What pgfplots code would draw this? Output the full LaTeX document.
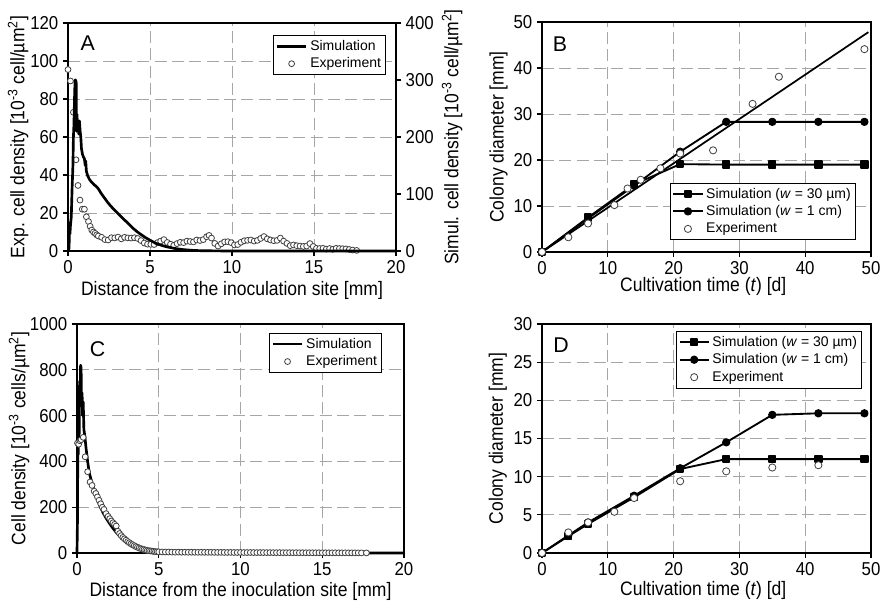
\documentclass[border=0pt]{standalone}
\usepackage{fontspec}
\setmainfont{Liberation Sans}[FakeStretch=0.9]
\newfontfamily\legendfont{Liberation Sans}
\usepackage{pgfplots}
\pgfplotsset{compat=1.18}

\pgfplotsset{
  panel/.style={
    scale only axis,
    clip=false,
    axis line style={line width=1.6pt},
    tick align=outside,
    major tick length=3.75pt,
    tick style={black, line width=0.8pt},
    xtick pos=left, ytick pos=left,
    grid=major,
    major grid style={black!35, dash pattern=on 9pt off 4pt, line width=0.6pt},
    tick label style={font=\fontsize{14}{16}\selectfont},
    label style={font=\fontsize{14.6}{17}\selectfont},
    legend style={font=\legendfont\fontsize{10.5}{12.8}\selectfont, draw=black, line width=0.6pt, inner sep=1.5pt},
    legend cell align=left,
    legend image code/.code={\draw[mark repeat=2,mark phase=2,##1] plot coordinates {(0pt,0pt) (11pt,0pt) (22pt,0pt)};},
    scaled ticks=false,
    /pgf/number format/1000 sep={},
    /pgf/number format/assume math mode=true,
  },
  expdot/.style={only marks, mark=*, mark size=#1, mark options={draw=black!75, fill=white, line width=0.6pt}},
  simline/.style={black, line width=#1, line join=round, mark=none},
}
\newcommand{\letter}{\legendfont\fontsize{16}{19}\selectfont}

\begin{document}
\begin{tikzpicture}
\useasboundingbox (0,0) rectangle (661.5pt,450pt);

% ---- A ----
\begin{axis}[panel,
  at={(51pt,261.75pt)}, anchor=south west, width=246pt, height=171pt,
  xmin=0, xmax=20, ymin=0, ymax=120,
  xtick={0,5,...,20}, ytick={0,20,...,120},
  xlabel={Distance from the inoculation site [mm]},
  ylabel={Exp. cell density [10\textsuperscript{-3} cell/µm\textsuperscript{2}]},
  xlabel style={at={(axis description cs:0.5,-0.171)}, anchor=center},
  ylabel style={at={(axis description cs:-0.152,0.5)}, anchor=center},
  legend style={at={(0.970,0.947)}, anchor=north east},
]
\addlegendimage{simline=2pt}
\addlegendentry{Simulation}
\addplot[expdot=2.2pt] coordinates {
(0.00,95.5) (0.15,89.5) (0.33,73) (0.49,48) (0.61,34.5) (0.73,26.8) (0.87,22) (1.0,22)
(1.12,18) (1.25,15.5) (1.35,13) (1.45,11) (1.55,10) (1.65,9.3) (1.75,8.5)
(1.85,7.9) (2.05,7.2) (2.25,6.0) (2.45,5.8) (2.65,7.0) (2.85,6.9) (3.05,7.3) (3.25,6.4)
(3.45,7.2) (3.65,6.9) (3.85,6.8) (4.05,7.0) (4.25,6.6) (4.45,5.5) (4.65,4.2) (4.85,3.6)
(5.05,3.5) (5.25,3.4) (5.45,4.4) (5.65,5.2) (5.85,6.0) (6.05,4.5) (6.25,3.6) (6.45,3.0)
(6.65,3.9) (6.85,4.6) (7.05,4.4) (7.25,5.2) (7.45,5.0) (7.65,4.8) (7.85,5.8) (8.05,5.5)
(8.25,6.0) (8.45,7.5) (8.6,8.2) (8.75,6.8) (8.95,4.0) (9.15,2.6) (9.35,3.8) (9.55,4.8)
(9.75,4.9) (9.95,4.4) (10.15,3.2) (10.35,3.4) (10.55,4.6) (10.75,5.4) (10.95,5.6) (11.15,5.8)
(11.35,5.2) (11.55,5.6) (11.75,6.6) (11.95,7.6) (12.15,6.4) (12.35,5.8) (12.55,5.4) (12.75,5.6)
(12.95,6.8) (13.15,5.2) (13.35,4.0) (13.55,2.8) (13.75,3.2) (13.95,2.8) (14.15,2.6) (14.35,2.4)
(14.55,2.6) (14.75,3.9) (14.95,2.4) (15.15,1.4) (15.35,1.3) (15.55,1.4) (15.75,1.0) (15.95,1.3)
(16.15,0.9) (16.35,1.4) (16.55,1.3) (16.75,1.2) (16.95,1.1) (17.15,0.8) (17.35,0.5) (17.6,0.3)
};
\addlegendentry{Experiment}
\node[font=\letter] at (axis description cs:0.06,0.911) {A};
\end{axis}
\begin{axis}[panel,
  at={(51pt,261.75pt)}, anchor=south west, width=246pt, height=171pt,
  xmin=0, xmax=20, ymin=0, ymax=400,
  grid=none,
  axis x line=none, axis y line*=right, ytick pos=right,
  ytick={0,100,...,400},
  ylabel={Simul. cell density [10\textsuperscript{-3} cell/µm\textsuperscript{2}]},
  ylabel style={at={(axis description cs:1.171,0.5)}, anchor=center},
]
\addplot[simline=2pt] coordinates {
(0,0) (0.05,0) (0.08,20) (0.1,50) (0.12,30) (0.15,45) (0.2,60) (0.25,110) (0.3,150)
(0.33,200) (0.36,220) (0.4,270) (0.43,300) (0.47,300) (0.5,295) (0.52,210) (0.55,240)
(0.58,215) (0.62,225) (0.66,205) (0.70,228) (0.74,210) (0.78,200) (0.82,180) (0.88,170)
(0.94,165) (1.0,162) (1.05,150) (1.08,158) (1.12,140) (1.2,132) (1.3,126) (1.4,122)
(1.5,119) (1.6,116) (1.7,114) (1.8,111) (1.9,107) (2.0,102) (2.2,94) (2.4,86) (2.6,79)
(2.8,73) (3.0,67) (3.25,60) (3.5,53) (3.75,46) (4.0,39) (4.25,33) (4.5,28) (4.75,23)
(5.0,19) (5.25,15) (5.5,12) (5.75,9.5) (6.0,7.5) (6.5,4.5) (7.0,2.5) (7.5,1.3) (8.0,0.6)
(9.0,0.2) (10,0) (20,0)
};
\end{axis}

% ---- B ----
\begin{axis}[panel,
  at={(406.5pt,261pt)}, anchor=south west, width=246.75pt, height=172.5pt,
  xmin=0, xmax=50, ymin=0, ymax=50,
  xtick={0,10,...,50}, ytick={0,10,...,50},
  xlabel={Cultivation time (\textit{t}) [d]},
  ylabel={Colony diameter [mm]},
  xlabel style={at={(axis description cs:0.49,-0.152)}, anchor=center},
  ylabel style={at={(axis description cs:-0.132,0.5)}, anchor=center},
  legend style={at={(0.954,0.052)}, anchor=south east},
]
\addplot[simline=1.3pt, forget plot] coordinates {(0,0) (49.6,47.8)};
\addplot[simline=1.4pt, mark=square*, mark size=2.4pt] coordinates {
(0,0) (7,7.5) (14,14.7) (21,19.1) (28,19) (35,19) (42,19) (49,19)};
\addlegendentry{Simulation (\textit{w} = 30 µm)}
\addplot[simline=1.4pt, mark=*, mark size=2.4pt] coordinates {
(0,0) (7,7.3) (14,14.4) (21,21.8) (28,28.3) (35,28.3) (42,28.3) (49,28.3)};
\addlegendentry{Simulation (\textit{w} = 1 cm)}
\addplot[expdot=2.7pt] coordinates {
(0,0) (4,3.2) (7,6.2) (11,10.2) (13,13.8) (15,15.7) (18,18.2) (21,21.4) (26,22.1)
(32,32.2) (36,38.1) (49,44.1)};
\addlegendentry{Experiment}
\node[font=\letter] at (axis description cs:0.055,0.904) {B};
\end{axis}

% ---- C ----
\begin{axis}[panel,
  at={(57.75pt,35.25pt)}, anchor=south west, width=245.25pt, height=171.75pt,
  xmin=0, xmax=20, ymin=0, ymax=1000,
  xtick={0,5,...,20}, ytick={0,200,...,1000},
  xlabel={Distance from the inoculation site [mm]},
  ylabel={Cell density [10\textsuperscript{-3} cells/µm\textsuperscript{2}]},
  xlabel style={at={(axis description cs:0.5,-0.166)}, anchor=center},
  ylabel style={at={(axis description cs:-0.177,0.5)}, anchor=center},
  legend style={at={(0.933,0.961)}, anchor=north east},
]
\addplot[simline=2pt] coordinates {
(0,0) (0.03,150) (0.05,480) (0.08,430) (0.1,600) (0.13,500) (0.16,750) (0.19,700)
(0.22,820) (0.25,810) (0.28,640) (0.31,700) (0.34,600) (0.38,660) (0.42,540) (0.48,510)
(0.55,460) (0.65,400) (0.75,350) (0.9,310) (1.0,285) (1.2,245) (1.4,205) (1.6,175)
(1.8,150) (2.0,128) (2.2,108) (2.4,90) (2.6,75) (2.8,62) (3.0,50) (3.25,38) (3.5,28)
(3.75,20) (4.0,14) (4.5,7) (5.0,3) (5.5,1.5) (6.0,0.5) (7,0) (20,0)
};
\addlegendentry{Simulation}
\addplot[expdot=2.2pt] coordinates {
(0.03,480) (0.1,475) (0.18,490) (0.25,495) (0.38,505) (0.5,420) (0.65,355) (0.8,310)
(0.92,295) (1.05,270) (1.15,260) (1.25,245) (1.35,230) (1.45,215) (1.55,200) (1.65,190)
(1.78,172) (1.9,160) (2.0,150) (2.1,140) (2.2,132) (2.3,125) (2.4,118) (2.5,95) (2.6,85)
(2.7,76) (2.8,68) (2.9,62) (3.0,56) (3.1,50) (3.2,45) (3.3,40) (3.4,36) (3.5,32) (3.6,28)
(3.7,25) (3.8,22) (3.9,19) (4.0,17) (4.1,15) (4.2,13) (4.3,11) (4.4,10) (4.5,9) (4.6,8)
(4.7,7) (4.8,6) (4.9,5.5) (5.0,5) (5.2,4.6) (5.4,4.2) (5.6,4.4) (5.8,3.9) (6.0,3.6)
(6.2,3.8) (6.4,3.4) (6.6,3.5) (6.8,3.2) (7.0,3.4) (7.2,3.1) (7.4,3.0) (7.6,3.2) (7.8,2.9)
(8.0,2.8) (8.2,3.0) (8.4,2.7) (8.6,2.6) (8.8,2.8) (9.0,2.5) (9.2,2.4) (9.4,2.6) (9.6,2.3)
(9.8,2.2) (10.0,2.4) (10.2,2.1) (10.4,2.0) (10.6,2.2) (10.8,1.9) (11.0,1.8) (11.2,2.0)
(11.4,1.8) (11.6,1.7) (11.8,1.8) (12.0,1.6) (12.2,1.5) (12.4,1.7) (12.6,1.5) (12.8,1.4)
(13.0,1.5) (13.2,1.3) (13.4,1.4) (13.6,1.2) (13.8,1.3) (14.0,1.1) (14.2,1.2) (14.4,1.1)
(14.6,1.0) (14.8,1.1) (15.0,0.9) (15.2,1.0) (15.4,0.9) (15.6,0.8) (15.8,0.9) (16.0,0.8)
(16.2,0.7) (16.4,0.8) (16.6,0.6) (16.8,0.7) (17.0,0.6) (17.2,0.5) (17.4,0.5) (17.7,0.4)
};
\addlegendentry{Experiment}
\node[font=\letter] at (axis description cs:0.063,0.89) {C};
\end{axis}

% ---- D ----
\begin{axis}[panel,
  at={(406.5pt,35.25pt)}, anchor=south west, width=246.75pt, height=171.75pt,
  xmin=0, xmax=50, ymin=0, ymax=30,
  xtick={0,10,...,50}, ytick={0,5,...,30},
  xlabel={Cultivation time (\textit{t}) [d]},
  ylabel={Colony diameter [mm]},
  xlabel style={at={(axis description cs:0.49,-0.162)}, anchor=center},
  ylabel style={at={(axis description cs:-0.134,0.5)}, anchor=center},
  legend style={at={(0.973,0.969)}, anchor=north east},
]
\addplot[simline=1.4pt, mark=square*, mark size=2.4pt] coordinates {
(0,0) (4,2.2) (7,3.8) (14,7.3) (21,11.0) (28,12.3) (35,12.3) (42,12.3) (49,12.3)};
\addlegendentry{Simulation (\textit{w} = 30 µm)}
\addplot[simline=1.4pt, mark=*, mark size=2.4pt] coordinates {
(0,0) (4,2.3) (7,4.0) (14,7.5) (21,11.1) (28,14.5) (35,18.1) (42,18.3) (49,18.3)};
\addlegendentry{Simulation (\textit{w} = 1 cm)}
\addplot[expdot=2.7pt] coordinates {
(0,0) (4,2.7) (7,4.0) (11,5.4) (14,7.2) (21,9.4) (28,10.7) (35,11.2) (42,11.5)};
\addlegendentry{Experiment}
\node[font=\letter] at (axis description cs:0.058,0.908) {D};
\end{axis}
\end{tikzpicture}
\end{document}
